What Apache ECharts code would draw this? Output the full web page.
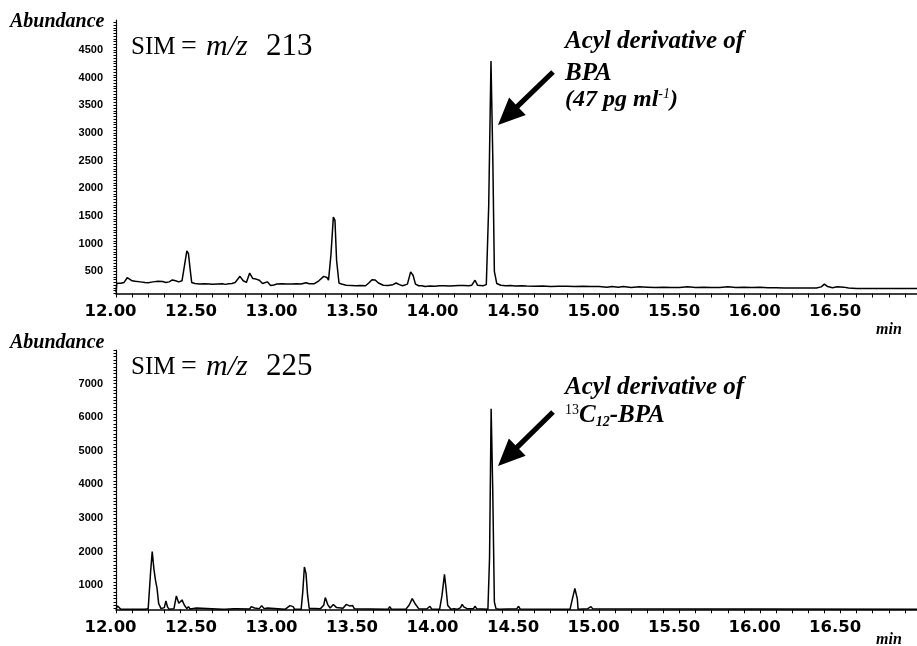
<!DOCTYPE html>
<html><head><meta charset="utf-8">
<script src="https://cdn.jsdelivr.net/npm/echarts@6/dist/echarts.min.js"></script>
<style>html,body{margin:0;padding:0;background:#fff}#c{width:917px;height:646px}</style>
</head><body><div id="c"></div>
<script>
// ---- data: SIM m/z 213 ----
const topTime = [12.00,12.005,12.03,12.05,12.07,12.08,12.10,12.12,12.15,12.18,12.20,12.23,12.26,12.29,12.31,12.33,12.35,12.37,12.39,12.41,12.425,12.44,12.45,12.46,12.47,12.49,12.52,12.55,12.58,12.60,12.63,12.66,12.68,12.70,12.72,12.74,12.77,12.79,12.81,12.83,12.85,12.87,12.89,12.91,12.94,12.96,12.98,13.00,13.03,13.06,13.09,13.12,13.15,13.18,13.20,13.23,13.26,13.29,13.31,13.32,13.335,13.35,13.36,13.37,13.385,13.40,13.43,13.46,13.49,13.52,13.55,13.57,13.59,13.61,13.63,13.66,13.69,13.72,13.74,13.76,13.78,13.81,13.83,13.845,13.86,13.88,13.90,13.92,13.95,13.98,14.01,14.04,14.07,14.10,14.13,14.16,14.19,14.21,14.23,14.245,14.28,14.30,14.315,14.329,14.34,14.35,14.365,14.39,14.42,14.45,14.48,14.52,14.55,14.60,14.65,14.70,14.75,14.80,14.85,14.90,14.95,15.00,15.05,15.08,15.12,15.15,15.20,15.25,15.30,15.35,15.40,15.45,15.50,15.55,15.60,15.65,15.70,15.75,15.80,15.85,15.90,15.95,16.00,16.05,16.10,16.15,16.20,16.25,16.30,16.35,16.38,16.40,16.42,16.45,16.48,16.52,16.55,16.60,16.70,16.80,16.90,16.975];
const topAbund = [120,285,285,300,385,360,330,320,310,300,295,310,320,315,300,310,345,330,310,330,600,870,820,550,300,280,270,275,270,265,270,275,265,275,280,300,410,330,300,470,370,360,340,280,310,245,255,270,275,270,270,275,270,295,275,275,330,410,390,340,800,1480,1420,700,290,270,250,245,240,245,240,290,350,345,290,250,245,260,290,260,240,270,490,430,270,240,240,225,235,230,240,240,235,240,245,245,240,250,340,250,240,260,1700,4300,2600,500,280,250,240,245,235,240,235,230,235,225,230,230,225,230,225,225,215,225,215,225,210,220,215,210,215,210,210,220,210,215,210,210,220,210,215,210,215,205,205,200,200,200,200,200,220,270,225,205,220,215,200,190,190,190,190,190];
// ---- data: SIM m/z 225 ----
const botTime = [12.00,12.01,12.02,12.03,12.06,12.07,12.08,12.18,12.20,12.215,12.225,12.235,12.245,12.255,12.265,12.28,12.30,12.31,12.32,12.33,12.36,12.375,12.39,12.41,12.425,12.44,12.45,12.46,12.50,12.51,12.66,12.67,12.68,12.73,12.75,12.76,12.83,12.84,12.86,12.87,12.89,12.905,12.92,12.94,12.95,13.05,13.08,13.10,13.11,13.15,13.16,13.17,13.18,13.19,13.20,13.21,13.27,13.29,13.30,13.315,13.33,13.35,13.37,13.38,13.41,13.43,13.45,13.47,13.48,13.49,13.69,13.70,13.71,13.72,13.80,13.82,13.84,13.86,13.88,13.89,13.93,13.95,13.96,14.01,14.025,14.04,14.05,14.06,14.08,14.10,14.12,14.14,14.15,14.16,14.18,14.19,14.22,14.23,14.24,14.25,14.31,14.32,14.33,14.34,14.35,14.36,14.38,14.49,14.50,14.51,14.52,14.82,14.835,14.85,14.865,14.87,14.93,14.95,14.96,14.97,16.975];
const botAbund = [280,380,330,280,280,330,280,280,300,1400,2000,1500,1150,900,450,300,330,530,350,280,300,680,460,560,400,300,360,290,320,280,280,310,280,300,300,280,290,360,320,280,300,390,300,320,280,280,390,360,280,280,800,1540,1350,700,310,300,300,400,630,420,320,425,330,280,310,425,380,390,300,280,280,360,290,280,280,400,600,430,300,280,290,370,290,280,700,1320,900,400,280,300,280,330,430,350,300,280,300,370,300,280,280,1800,6250,3800,500,300,280,300,370,290,280,280,600,900,600,280,300,360,300,280,280];
// ---- axis labels ----
const xTickLabels = [12.0,12.5,13.0,13.5,14.0,14.5,15.0,15.5,16.0,16.5];
const topYLabels = [500,1000,1500,2000,2500,3000,3500,4000,4500];
const botYLabels = [1000,2000,3000,4000,5000,6000,7000];

const xMinor = []; for (let i = 0; i <= 49; i++) xMinor.push(Math.round((12 + i * 0.1) * 100) / 100);
const topYTicks = []; for (let v = 100; v <= 5000; v += 50) topYTicks.push(v);
const botYTicks = []; for (let v = 300; v <= 8000; v += 100) botYTicks.push(v);

const chart = echarts.init(document.getElementById('c'), null, {renderer: 'canvas'});
const serif = '"Liberation Serif", "Times New Roman", serif';
const sans = '"Liberation Sans", Arial, sans-serif';

function xAxisDef(gi) {
  return {
    type: 'value', gridIndex: gi, min: 12, max: 16.975,
    axisLine: {show: true, onZero: false, lineStyle: {color: '#000', width: 1.5}},
    axisTick: {show: true, customValues: xMinor, length: 4, lineStyle: {color: '#000', width: 1}},
    axisLabel: {show: true, customValues: xTickLabels, margin: 10, color: '#000',
      fontFamily: '"DejaVu Sans", sans-serif', fontWeight: 'bold', fontSize: 16.5,
      padding: [0, 11, 0, 0], formatter: v => v.toFixed(2)},
    splitLine: {show: false}
  };
}
function yAxisDef(gi, min, max, labels, ticks) {
  return {
    type: 'value', gridIndex: gi, min: min, max: max,
    axisLine: {show: true, onZero: false, lineStyle: {color: '#000', width: 1.2}},
    axisTick: {show: true, customValues: ticks, length: 2.5, lineStyle: {color: '#000', width: 1}},
    axisLabel: {show: true, customValues: labels, margin: 13, color: '#000',
      fontFamily: sans, fontWeight: 'bold', fontSize: 11, formatter: v => String(v)},
    splitLine: {show: false}
  };
}

function arrow(tail, tip) {
  const dx = tip[0] - tail[0], dy = tip[1] - tail[1];
  const L = Math.hypot(dx, dy), ux = dx / L, uy = dy / L, nx = -uy, ny = ux;
  const hl = 27, hw = 12, sw = 2.6;
  const nk = [tip[0] - ux * hl, tip[1] - uy * hl];
  return {type: 'polygon', silent: true, shape: {points: [
    [tail[0] + nx * sw, tail[1] + ny * sw], [nk[0] + nx * sw, nk[1] + ny * sw],
    [nk[0] + nx * hw, nk[1] + ny * hw], tip,
    [nk[0] - nx * hw, nk[1] - ny * hw], [nk[0] - nx * sw, nk[1] - ny * sw],
    [tail[0] - nx * sw, tail[1] - ny * sw]]}, style: {fill: '#000'}};
}
function txt(x, y, s, font, extra) {
  return Object.assign({type: 'text', x: x, y: y, silent: true,
    style: Object.assign({text: s, font: font, fill: '#000', verticalAlign: 'middle', align: 'left'}, extra || {})});
}
const mctx = document.createElement('canvas').getContext('2d');
function seq(x, y, parts) {
  const out = [];
  let cx = x;
  parts.forEach(p => {
    out.push(txt(cx, y + p[2], p[0], p[1]));
    mctx.font = p[1];
    cx += mctx.measureText(p[0]).width;
  });
  return out;
}
const biSerif = (n) => 'italic bold ' + n + 'px ' + serif;
const nSerif = (n) => n + 'px ' + serif;
const iSerif = (n) => 'italic ' + n + 'px ' + serif;

const graphics = [
  txt(10, 22, 'Abundance', biSerif(20)),
  txt(10, 343, 'Abundance', biSerif(20)),
  txt(131, 47, 'SIM', nSerif(25)), txt(181, 47, '=', nSerif(28)), txt(206, 47, 'm/z', iSerif(30)), txt(266, 47, '213', nSerif(31)),
  txt(131, 367, 'SIM', nSerif(25)), txt(181, 367, '=', nSerif(28)), txt(206, 367, 'm/z', iSerif(30)), txt(266, 367, '225', nSerif(31)),
  txt(876, 330, 'min', biSerif(16)),
  txt(876, 640, 'min', biSerif(16)),
  txt(565, 42, 'Acyl derivative of', biSerif(25)),
  txt(565, 74, 'BPA', biSerif(25)),
  ...seq(565, 100, [['(47 pg ml', biSerif(24), 0], ['-1', iSerif(14), -6], [')', biSerif(24), 0]]),
  txt(565, 388, 'Acyl derivative of', biSerif(25)),
  ...seq(565, 416, [['13', nSerif(14), -6], ['C', biSerif(25), 0], ['12', biSerif(14), 6], ['-BPA', biSerif(25), 0]]),
  arrow([553, 72], [498, 125]),
  arrow([553, 412], [498, 466])
];

chart.setOption({
  animation: false,
  backgroundColor: '#fff',
  grid: [
    {left: 116, top: 20, width: 801, height: 273.5, outerBoundsMode: 'none', containLabel: false},
    {left: 116, top: 350, width: 801, height: 259.3, outerBoundsMode: 'none', containLabel: false}
  ],
  xAxis: [xAxisDef(0), xAxisDef(1)],
  yAxis: [yAxisDef(0, 100, 5040, topYLabels, topYTicks), yAxisDef(1, 280, 8000, botYLabels, botYTicks)],
  series: [
    {type: 'line', xAxisIndex: 0, yAxisIndex: 0, showSymbol: false, clip: true,
     lineStyle: {color: '#000', width: 1.5}, data: topTime.map((t, i) => [t, topAbund[i]])},
    {type: 'line', xAxisIndex: 1, yAxisIndex: 1, showSymbol: false, clip: true,
     lineStyle: {color: '#000', width: 1.5}, data: botTime.map((t, i) => [t, botAbund[i]])}
  ],
  graphic: graphics
});
</script></body></html>
